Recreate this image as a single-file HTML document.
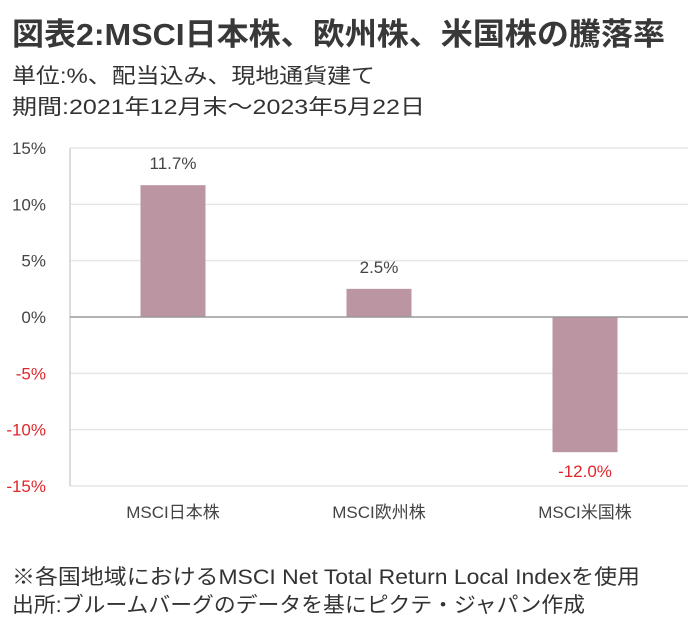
<!DOCTYPE html>
<html><head><meta charset="utf-8">
<style>
html,body{margin:0;padding:0;background:#fff;width:691px;height:626px;overflow:hidden}
svg{display:block;font-family:"Liberation Sans","Noto Sans CJK JP",sans-serif}
</style></head>
<body>
<svg id="chart" width="691" height="626" viewBox="0 0 691 626" xmlns="http://www.w3.org/2000/svg">
<text x="12" y="45" font-size="31" font-weight="bold" fill="#383838" textLength="653" lengthAdjust="spacingAndGlyphs">図表2:MSCI日本株、欧州株、米国株の騰落率</text>
<text x="12" y="83" font-size="21" fill="#333" textLength="363" lengthAdjust="spacingAndGlyphs">単位:%、配当込み、現地通貨建て</text>
<text x="12" y="114" font-size="21" fill="#333" textLength="413" lengthAdjust="spacingAndGlyphs">期間:2021年12月末～2023年5月22日</text>
<g id="plot"></g>
<text x="12" y="584" font-size="21" fill="#333" textLength="628" lengthAdjust="spacingAndGlyphs">※各国地域におけるMSCI Net Total Return Local Indexを使用</text>
<text x="12" y="612" font-size="21" fill="#333" textLength="573" lengthAdjust="spacingAndGlyphs">出所:ブルームバーグのデータを基にピクテ・ジャパン作成</text>
</svg>
<script>
const categories = ["MSCI日本株", "MSCI欧州株", "MSCI米国株"];
const values = [11.7, 2.5, -12.0];
const valueLabels = ["11.7%", "2.5%", "-12.0%"];
const yTicks = [15, 10, 5, 0, -5, -10, -15];
const yTickLabels = ["15%", "10%", "5%", "0%", "-5%", "-10%", "-15%"];

const NS = "http://www.w3.org/2000/svg";
const plot = document.getElementById("plot");
const x0 = 70, x1 = 688, yTop = 148, yBot = 486, yMin = -15, yMax = 15;
const yScale = v => yTop + (yMax - v) / (yMax - yMin) * (yBot - yTop);
const band = (x1 - x0) / categories.length;
const xCenter = i => x0 + band * (i + 0.5);
const barW = 65;
function mk(tag, attrs) { const e = document.createElementNS(NS, tag); for (const k in attrs) e.setAttribute(k, attrs[k]); plot.appendChild(e); return e; }

yTicks.forEach((t, i) => {
  const y = yScale(t);
  if (t !== 0) {
    const g = mk("line", {x1: x0, x2: x1, y1: y, y2: y, stroke: "#e6e6e6", "stroke-width": 1.5});
    
    
  }
  const tx = mk("text", {x: 46, y: y + 6, "font-size": 17, "text-anchor": "end", fill: t < 0 ? "#e0262b" : "#444"});
  tx.textContent = yTickLabels[i];
  
  
});
const ax = mk("line", {x1: x0, x2: x0, y1: yTop, y2: yBot, stroke: "#d0d0d0", "stroke-width": 1.5});



values.forEach((v, i) => {
  const cx = xCenter(i);
  const yv = yScale(v), y0 = yScale(0);
  const r = mk("rect", {x: cx - barW / 2, y: Math.min(yv, y0), width: barW, height: Math.abs(y0 - yv), fill: "#bb95a1"});
  
  
  const ly = v >= 0 ? yv - 16 : yv + 25;
  const l = mk("text", {x: cx, y: ly, "font-size": 17, "text-anchor": "middle", fill: v < 0 ? "#e0262b" : "#444"});
  l.textContent = valueLabels[i];
  
  
  const c = mk("text", {x: cx, y: 518, "font-size": 17, "text-anchor": "middle", fill: "#444"});
  c.textContent = categories[i];
  
  
});
const zl = mk("line", {x1: x0, x2: x1, y1: yScale(0), y2: yScale(0), stroke: "#999", "stroke-width": 1.5});


</script>
</body></html>
